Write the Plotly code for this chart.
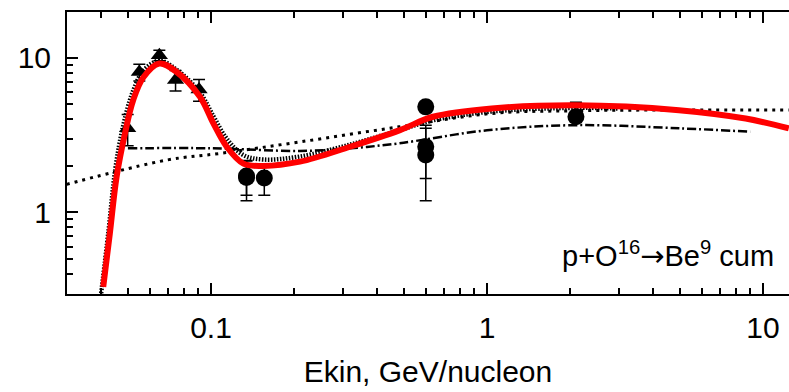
import plotly.graph_objects as go

# ---- data ----
tri_x = [0.0499, 0.055, 0.065, 0.0744, 0.0905]
tri_y = [3.5, 8.1, 10.4, 7.2, 6.25]
tri_err = [0.8, 1.0, 0.8, 1.1, 1.0]

circ_x = [0.1345, 0.1345, 0.156, 0.60, 0.60, 0.60, 2.1]
circ_y = [1.72, 1.68, 1.67, 4.82, 2.66, 2.35, 4.16]
circ_up = [0.43, 0.49, 0.38, 0.3, 1.0, 1.16, 1.0]
circ_dn = [0.43, 0.49, 0.38, 0.3, 1.0, 1.16, 0.3]

red_x = [0.0407, 0.043, 0.0455, 0.0488, 0.0522, 0.0569, 0.065, 0.0751, 0.0912,
         0.102, 0.114, 0.131, 0.155, 0.21, 0.319, 0.484, 0.637, 1.04, 2.1, 4.96, 8.65, 12.4]
red_y = [0.33, 0.73, 1.70, 3.25, 5.3, 7.5, 9.2, 8.1, 5.6,
         3.77, 2.66, 2.07, 2.0, 2.13, 2.66, 3.41, 4.16, 4.71, 4.94, 4.59, 4.05, 3.5]

dense_x = [0.040, 0.0425, 0.045, 0.048, 0.052, 0.057, 0.065, 0.075, 0.091, 0.102,
           0.114, 0.131, 0.155, 0.21, 0.32, 0.48, 0.64, 1.04, 2.1, 3.0]
dense_y = [0.30, 0.75, 1.9, 3.6, 6.0, 8.3, 9.6, 8.4, 6.0, 4.2,
           3.0, 2.35, 2.2, 2.3, 2.75, 3.4, 3.95, 4.5, 4.75, 4.7]

sparse_x = [0.030, 0.069, 0.108, 0.21, 0.48, 1.04, 2.1, 5.0, 12.4]
sparse_y = [1.52, 2.18, 2.41, 2.86, 3.58, 4.37, 4.55, 4.6, 4.6]

dd_x = [0.05, 0.1, 0.21, 0.32, 0.48, 1.0, 2.1, 5.0, 9.0]
dd_y = [2.6, 2.6, 2.5, 2.6, 2.8, 3.4, 3.67, 3.5, 3.33]

label = ("p+O<sup>16</sup><span style='font-family:DejaVu Sans'>→</span>"
         "Be<sup>9</sup> cum")
x_title = "Ekin, GeV/nucleon"

FONT = "Liberation Sans, Arial, Helvetica, sans-serif"

fig = go.Figure()
fig.add_trace(go.Scatter(x=sparse_x, y=sparse_y, mode="lines", line_shape="spline",
                         line=dict(color="black", width=3, dash="3px,5px")))
fig.add_trace(go.Scatter(x=dd_x, y=dd_y, mode="lines", line_shape="spline",
                         line=dict(color="black", width=2.5, dash="9px,3px,2px,3px")))
fig.add_trace(go.Scatter(x=dense_x, y=dense_y, mode="lines", line_shape="spline",
                         line=dict(color="black", width=4.5, dash="1.5px,1.5px")))
fig.add_trace(go.Scatter(x=tri_x, y=tri_y, mode="markers",
                         marker=dict(symbol="triangle-up", size=15, color="black"),
                         error_y=dict(type="data", array=tri_err, color="black",
                                      thickness=1.5, width=6)))
fig.add_trace(go.Scatter(x=circ_x, y=circ_y, mode="markers",
                         marker=dict(symbol="circle", size=17, color="black"),
                         error_y=dict(type="data", array=circ_up, arrayminus=circ_dn,
                                      symmetric=False, color="black",
                                      thickness=1.5, width=6)))
fig.add_trace(go.Scatter(x=red_x, y=red_y, mode="lines", line_shape="spline",
                         line=dict(color="#ff0000", width=6)))

fig.add_annotation(text=label, xref="paper", yref="paper", x=0.982, y=0.14,
                   xanchor="right", yanchor="middle", showarrow=False,
                   font=dict(family=FONT, size=29, color="black"))

fig.update_layout(
    width=789, height=392,
    margin=dict(l=67, r=0, t=12, b=98),
    paper_bgcolor="white", plot_bgcolor="white",
    showlegend=False,
    font=dict(family=FONT, size=30, color="black"),
)
fig.update_xaxes(type="log", range=[-1.5217, 1.0942], dtick=1,
                 showgrid=False, zeroline=False,
                 showline=True, linecolor="black", linewidth=2, mirror="ticks",
                 ticks="inside", ticklen=11, tickwidth=1.5, tickcolor="black",
                 minor=dict(ticks="inside", ticklen=6, tickwidth=1.5, tickcolor="black",
                            dtick="D1", showgrid=False),
                 ticklabelstandoff=6,
                 title=dict(text=x_title, font=dict(size=30), standoff=18))
fig.update_yaxes(type="log", range=[-0.528, 1.297], dtick=1,
                 showgrid=False, zeroline=False,
                 showline=True, linecolor="black", linewidth=2, mirror=False,
                 ticks="inside", ticklen=11, tickwidth=1.5, tickcolor="black",
                 minor=dict(ticks="inside", ticklen=6, tickwidth=1.5, tickcolor="black",
                            dtick="D1", showgrid=False),
                 ticklabelstandoff=8)

fig.write_html("out.html")
